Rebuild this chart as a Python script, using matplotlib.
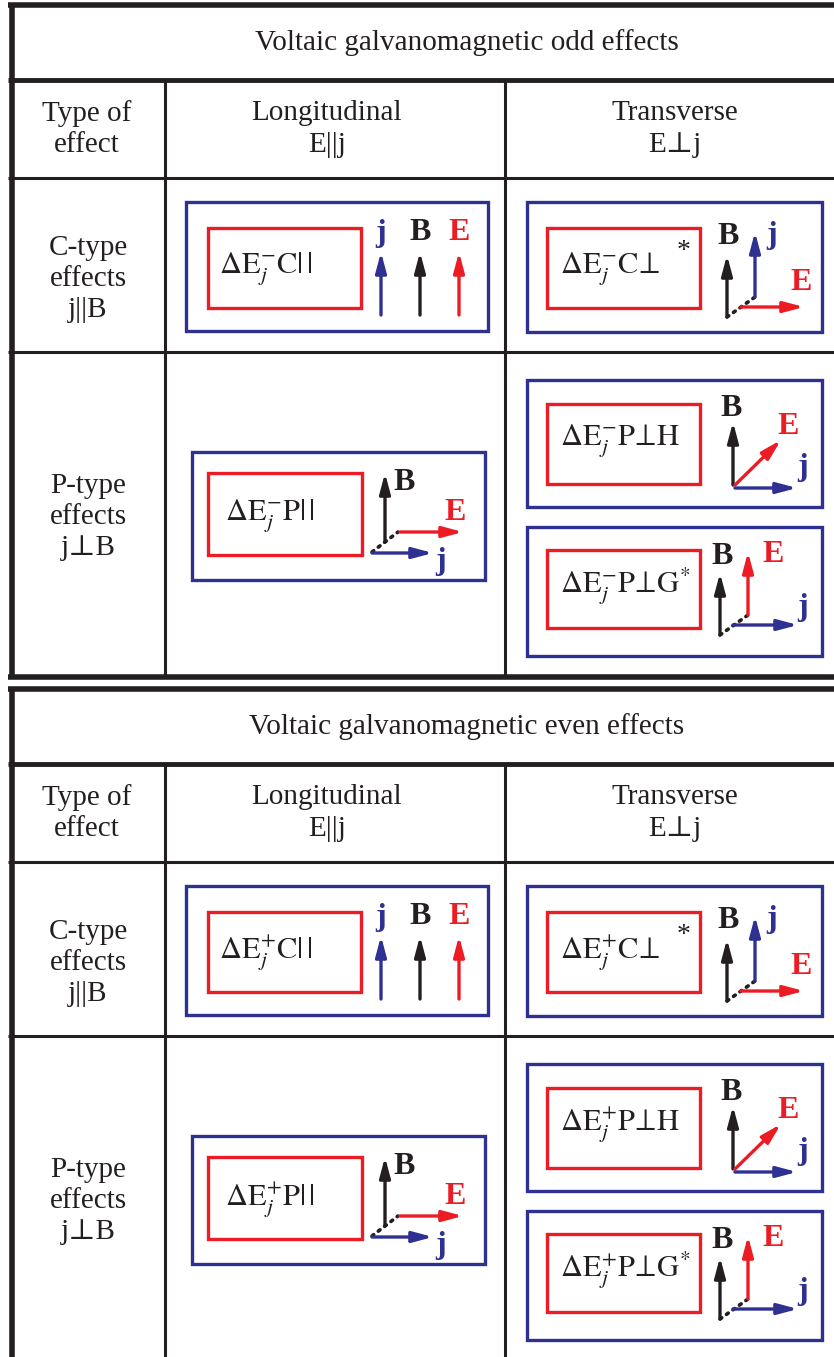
import matplotlib.pyplot as plt
from matplotlib.patches import Rectangle

plt.rcParams['font.family'] = ['Liberation Serif', 'DejaVu Serif']
plt.rcParams['mathtext.fontset'] = 'stix'

# table content
titles = ["Voltaic galvanomagnetic odd effects", "Voltaic galvanomagnetic even effects"]
signs = ["-", "+"]
col_heads = ["Type of\neffect", "Longitudinal\nE||j", "Transverse\nE\u22a5j"]
row_heads = ["C-type\neffects\nj||B", "P-type\neffects\nj\u22a5B"]
effect_names = [r"\mathrm{C}|\,|", r"\mathrm{C}\!\perp", r"\mathrm{P}|\,|",
                 r"\mathrm{P}\!\perp\!\mathrm{H}", r"\mathrm{P}\!\perp\!\mathrm{G}^{*}"]

BLUE = '#2e3192'
RED = '#ed1c24'
BLACK = '#231f20'

W, H = 834, 1357
fig = plt.figure(figsize=(W / 100, H / 100), dpi=100)
ax = fig.add_axes([0, 0, 1, 1])
ax.set_xlim(0, W)
ax.set_ylim(H, 0)
ax.axis('off')

FS = 21
LS = 1.25


def hline(y, x0, x1, lw):
    ax.plot([x0, x1], [y, y], color=BLACK, lw=lw, solid_capstyle='butt')


def vline(x, y0, y1, lw):
    ax.plot([x, x], [y0, y1], color=BLACK, lw=lw, solid_capstyle='butt')


def arrow(p0, p1, color):
    ax.annotate('', xy=p1, xytext=p0,
                arrowprops=dict(arrowstyle='-|>,head_length=1.2,head_width=0.32',
                                color=color, lw=2.4, shrinkA=0, shrinkB=0,
                                mutation_scale=10))


def label(x, y, s, color):
    ax.text(x, y, s, color=color, fontsize=23, fontweight='bold',
            ha='center', va='center')


def dotted(p0, p1):
    ax.plot([p0[0], p1[0]], [p0[1], p1[1]], color=BLACK, lw=2.6,
            linestyle=(0, (0.6, 1.6)), dash_capstyle='round')


def effect_box(x, y, w, h, rx, ry, rw, rh, sign, name, ty):
    ax.add_patch(Rectangle((x, y), w, h, fill=False, ec=BLUE, lw=2.4))
    ax.add_patch(Rectangle((x + rx, y + ry), rw, rh, fill=False, ec=RED, lw=2.4))
    ax.text(x + 33, y + ty, r"$\Delta\mathrm{E}_{j}^{%s}%s$" % (sign, name),
            fontsize=22, color=BLACK, ha='left', va='center')


def draw_table(y0, title, sign, bottom):
    rows = [y0, y0 + 75, y0 + 173, y0 + 347]
    ax.text(467, y0 + 38, title, fontsize=FS, ha='center', va='center', color=BLACK)
    hline(rows[0], 8, W, 4)
    hline(rows[1], 8, W, 3.5)
    hline(rows[2], 8, W, 2.2)
    hline(rows[3], 8, W, 2.2)
    vline(12, rows[0] - 2, bottom, 4)
    vline(165, rows[1], bottom, 2.2)
    vline(505, rows[1], bottom, 2.2)
    for cx, s in zip([87, 327, 675], col_heads):
        ax.text(cx, rows[1] + 49, s, fontsize=FS, ha='center', va='center',
                color=BLACK, linespacing=LS)
    ax.text(88, rows[2] + 101, row_heads[0], fontsize=FS, ha='center',
            va='center', color=BLACK, linespacing=LS)
    ax.text(88, rows[3] + 165, row_heads[1], fontsize=FS, ha='center',
            va='center', color=BLACK, linespacing=LS)

    d = y0 - 5
    # C || : three parallel arrows
    bx, by = 186, 202 + d
    effect_box(bx, by, 302, 129, 22, 26, 153, 80, sign, effect_names[0], 67)
    for dx, s, c in zip([195, 234, 273], ['j', 'B', 'E'], [BLUE, BLACK, RED]):
        arrow((bx + dx, by + 113), (bx + dx, by + 50), c)
        label(bx + dx, by + 31, s, c)

    # C perp
    bx, by = 527, 202 + d
    effect_box(bx, by, 295, 130, 20, 26, 153, 80, sign, effect_names[1], 67)
    ax.text(bx + 157, by + 50, '*', fontsize=20, ha='center', va='center', color=BLACK)
    ox, oy = bx + 200, by + 115
    arrow((ox, oy), (ox, oy - 62), BLACK)
    dotted((ox, oy), (ox + 28, oy - 20))
    arrow((ox + 28, oy - 20), (ox + 28, oy - 85), BLUE)
    arrow((ox + 14, oy - 10), (ox + 77, oy - 10), RED)
    label(ox + 1, by + 35, 'B', BLACK)
    label(ox + 45, by + 33, 'j', BLUE)
    label(ox + 74, by + 80, 'E', RED)

    # P ||
    bx, by = 192, 452 + d
    effect_box(bx, by, 293, 128, 16, 21, 154, 82, sign, effect_names[2], 64)
    ox, oy = bx + 180, by + 100
    dotted((ox, oy), (ox + 26, oy - 20))
    arrow((ox + 13, oy - 10), (ox + 13, oy - 79), BLACK)
    arrow((ox + 28, oy - 20), (ox + 91, oy - 20), RED)
    arrow((ox, oy + 1), (ox + 61, oy + 1), BLUE)
    label(ox + 32, by + 31, 'B', BLACK)
    label(ox + 83, by + 60, 'E', RED)
    label(ox + 69, by + 110, 'j', BLUE)

    # P perp H
    bx, by = 527, 380 + d
    effect_box(bx, by, 295, 127, 20, 24, 153, 80, sign, effect_names[3], 61)
    ox, oy = bx + 206, by + 105
    arrow((ox, oy), (ox, oy - 63), BLACK)
    arrow((ox + 2, oy), (ox + 48, oy - 45), RED)
    arrow((ox + 2, oy + 3), (ox + 64, oy + 3), BLUE)
    label(ox - 2, by + 28, 'B', BLACK)
    label(ox + 55, by + 46, 'E', RED)
    label(ox + 70, by + 88, 'j', BLUE)

    # P perp G
    bx, by = 527, 527 + d
    effect_box(bx, by, 295, 129, 20, 23, 153, 78, sign, effect_names[4], 59)
    ox, oy = bx + 193, by + 108
    arrow((ox, oy), (ox, oy - 62), BLACK)
    dotted((ox, oy), (ox + 28, oy - 20))
    arrow((ox + 28, oy - 20), (ox + 28, oy - 83), RED)
    arrow((ox + 13, oy - 10), (ox + 78, oy - 10), BLUE)
    label(ox + 2, by + 30, 'B', BLACK)
    label(ox + 53, by + 28, 'E', RED)
    label(ox + 83, by + 80, 'j', BLUE)

    return rows


draw_table(5, titles[0], signs[0], 677)
hline(677, 8, W, 4)
draw_table(689, titles[1], signs[1], H)

fig.savefig('out.png', dpi=100)
